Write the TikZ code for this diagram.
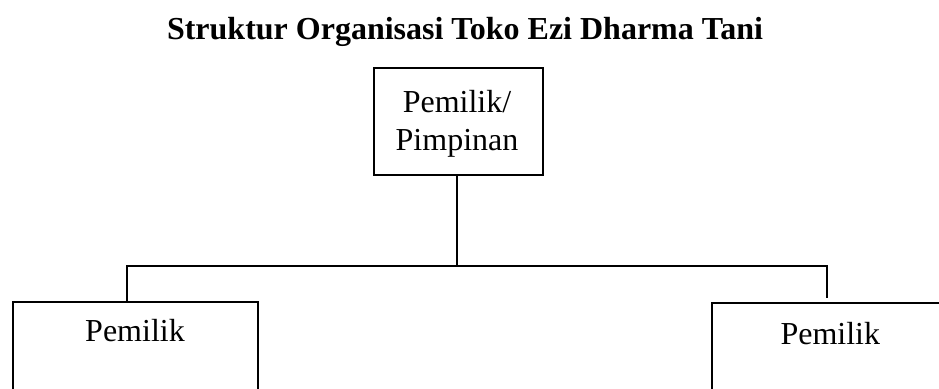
\documentclass[tikz,border=0pt]{standalone}
\usepackage{fontspec}
\setmainfont{Liberation Serif}
\begin{document}
\begin{tikzpicture}[x=1pt,y=-1pt,
  box/.style={draw, line width=1.9pt, inner sep=0pt, outer sep=0pt, anchor=north west},
  txt/.style={anchor=base, inner sep=0pt, font=\fontsize{32}{38}\selectfont},
  ttl/.style={anchor=base, inner sep=0pt, font=\fontsize{32}{38}\selectfont\bfseries},
  conn/.style={line width=1.9pt}]
\useasboundingbox (0,0) rectangle (939,388);
\clip (0,0) rectangle (939,388);
\fill[white] (0,0) rectangle (939,388);
% title
\node[ttl] (title) at (465,39.3) {Struktur Organisasi Toko Ezi Dharma Tani};
% top box
\node[box, minimum width=169pt, minimum height=107pt] (top) at (374,68.3) {};
\node[txt] (t1) at (457,112) {Pemilik/};
\node[txt] (t2) at (457,150.7) {Pimpinan};
% left box
\node[box, minimum width=245pt, minimum height=120pt] (lbox) at (13.3,301.7) {};
\node[txt] (l1) at (135,341.7) {Pemilik};
% right box
\node[box, minimum width=250pt, minimum height=120pt] (rbox) at (712.3,302.7) {};
\node[txt] (r1) at (830.3,344) {Pemilik};
% connectors
\coordinate (jm) at (457,266);
\coordinate (jl) at (127.3,266);
\coordinate (jr) at (827.3,266);
\coordinate (rend) at (827.3,298.3);
\draw[conn] (top.south -| jm) -- (jm);
\draw[conn] (lbox.north -| jl) -- (jl) -- (jr) -- (rend);
\end{tikzpicture}
\end{document}
